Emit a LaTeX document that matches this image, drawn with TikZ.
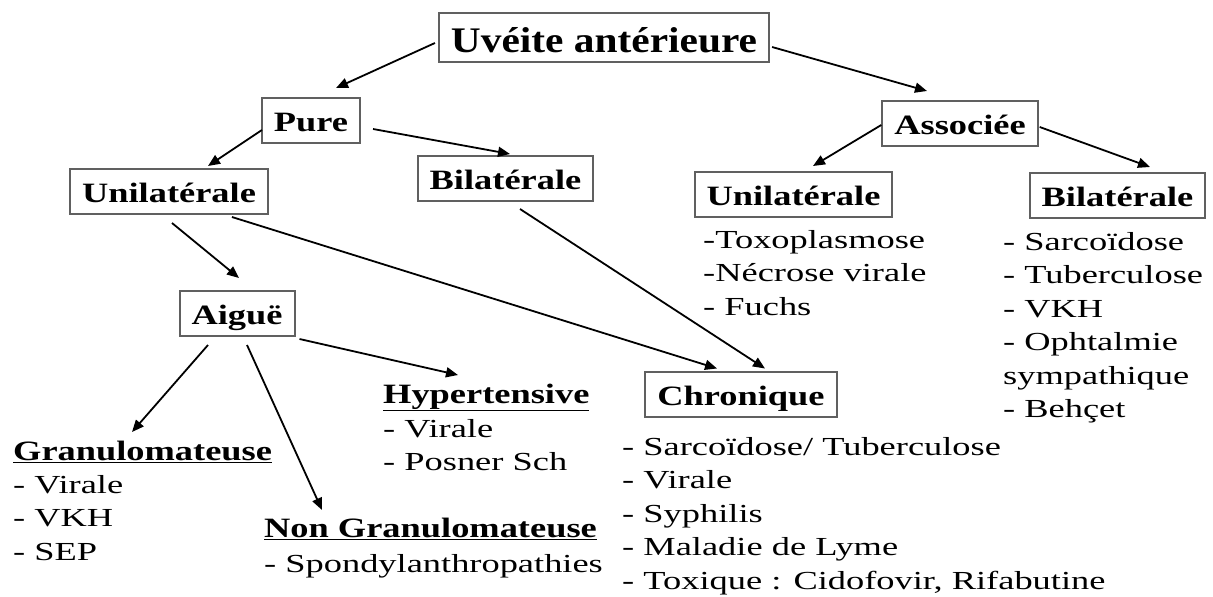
\documentclass[tikz,border=0pt]{standalone}
\usepackage{fontspec}
\setmainfont{Liberation Serif}[FakeStretch=1.4]
\newfontfamily\rootfont{Liberation Serif}[FakeStretch=1.15]
\newfontfamily\boxfont{Liberation Serif}[FakeStretch=1.3]
\usepackage{xcolor}
\usetikzlibrary{arrows.meta,calc}
\definecolor{boxgray}{RGB}{96,96,96}
\newcommand{\itemlist}[1]{\begin{tabular}[t]{@{}l@{}}#1\end{tabular}}

\begin{document}
\begin{tikzpicture}[x=1pt, y=-1pt, >={Triangle[length=12pt,width=10pt]},
  box/.style={rectangle, draw=boxgray, line width=2pt, font=\boxfont\fontsize{28}{30}\selectfont\bfseries, inner xsep=12pt, inner ysep=0pt, text height=22pt, text depth=0pt, minimum height=45pt},
  head/.style={font=\boxfont\fontsize{28}{33.5}\selectfont\bfseries, anchor=base west, inner sep=0pt},
  items/.style={font=\fontsize{26}{33.5}\selectfont, anchor=base west, inner sep=0pt},
  arr/.style={->, line width=1.8pt}]
\useasboundingbox (0,0) rectangle (1213,597);
% Boxes
\node[box, font=\rootfont\fontsize{36}{40}\selectfont\bfseries, text height=29pt, minimum height=49pt] (root) at (604,37.5) {Uvéite antérieure};
\node[box] (pure) at (311,120.5) {Pure};
\node[box] (uniL) at (169,191.5) {Unilatérale};
\node[box] (bilL) at (505.5,178.5) {Bilatérale};
\node[box] (assoc) at (960,123.5) {Associée};
\node[box] (uniR) at (793.5,194.5) {Unilatérale};
\node[box] (bilR) at (1117.5,195.5) {Bilatérale};
\node[box] (aigue) at (237,313.5) {Aiguë};
\node[box] (chron) at (741,394) {Chronique};
% Headings
\node[head] (gran) at (13,460) {\underline{Granulomateuse}};
\node[head] (hyper) at (383,403) {\underline{Hypertensive}};
\node[head] (nongran) at (264,537) {\underline{Non Granulomateuse}};
% Lists
\node[items] (granlist) at (13,493) {\itemlist{- Virale\\- VKH\\- SEP}};
\node[items] (hyperlist) at (383,437) {\itemlist{- Virale\\- Posner Sch}};
\node[items] (nongranlist) at (264,572) {\itemlist{- Spondylanthropathies}};
\node[items] (uniRlist) at (703,248) {\itemlist{-Toxoplasmose\\-Nécrose virale\\- Fuchs}};
\node[items] (bilRlist) at (1003,250) {\itemlist{- Sarcoïdose\\- Tuberculose\\- VKH\\- Ophtalmie\\sympathique\\- Behçet}};
\node[items] (chronlist) at (622,455) {\itemlist{- Sarcoïdose/ Tuberculose\\- Virale\\- Syphilis\\- Maladie de Lyme\\- Toxique : Cidofovir, Rifabutine}};
% Top level
\draw[arr] ($(root.west)+(-3,5.5)$)--($(pure.north)+(25,-9)$);
\draw[arr] ($(root.east)+(2,9.5)$)--($(assoc.north)+(-33,-9)$);
% Pure
\draw[arr] ($(pure.west)+(1,9.5)$)--($(uniL.north)+(39,-2)$);
\draw[arr] ($(pure.east)+(12,8.5)$)--($(bilL.north)+(4.5,-1)$);
% Associee
\draw[arr] ($(assoc.west)+(0,1.5)$)--($(uniR.north)+(19.5,-5)$);
\draw[arr] ($(assoc.east)+(1,3.5)$)--($(bilR.north)+(32.5,-5)$);
% Unilaterale / Bilaterale
\draw[arr] ($(uniL.south)+(3,8)$)--($(aigue.north)+(2,-12)$);
\draw[arr] ($(uniL.south east)+(-37,2)$)--($(chron.north)+(-24,-2)$);
\draw[arr] ($(bilL.south)+(14.5,7)$)--($(chron.north)+(24,-2)$);
% Aigue
\draw[arr] ($(aigue.south east)+(4,2)$)--($(hyper.base west)+(75,-28)$);
\draw[arr] ($(aigue.south)+(-29,8)$)--($(gran.base west)+(119,-28)$);
\draw[arr] ($(aigue.south)+(10,8)$)--($(nongran.base west)+(58,-27)$);
\end{tikzpicture}
\end{document}
